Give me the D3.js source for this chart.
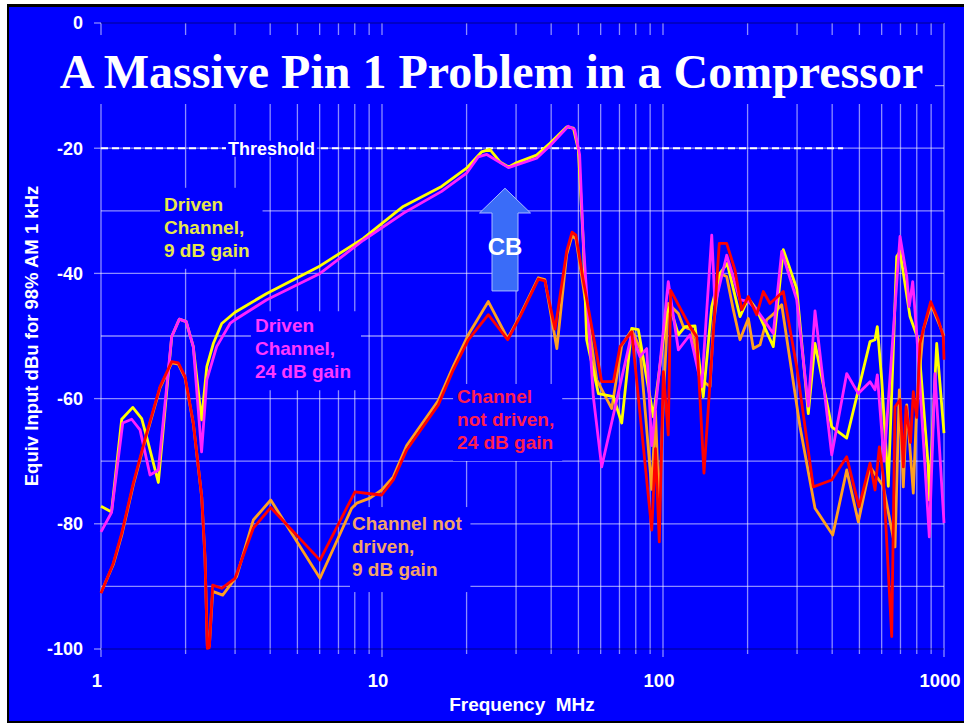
<!DOCTYPE html>
<html>
<head>
<meta charset="utf-8">
<script src="https://cdn.jsdelivr.net/npm/d3@7"></script>
<style>
  html, body { margin: 0; padding: 0; background: #ffffff; }
  svg { display: block; }
</style>
</head>
<body>
<svg id="chart" width="964" height="723"></svg>
<script>
// ---- data: frequency in MHz, level in dBu ----
const freqTicks = [1, 10, 100, 1000];
const dbTicks = [0, -20, -40, -60, -80, -100];
const dbGrid = [-10, -20, -30, -40, -50, -60, -70, -80, -90];
const threshold = -20;

// Driven channel, 9 dB gain
const drivenGain9 = [
  [1.00, -77.2], [1.09, -78.1], [1.185, -63.3], [1.297, -61.4], [1.396, -63.2], [1.473, -67.1],
  [1.60, -73.4], [1.785, -50.1], [1.90, -47.3], [2.01, -47.7], [2.13, -51.7], [2.28, -63.4],
  [2.38, -54.9], [2.51, -51.2], [2.69, -48.0], [3.0, -46.2], [3.89, -43.2], [6.02, -38.8],
  [8.58, -34.4], [11.9, -29.3], [16.3, -26.1], [20.0, -23.2], [22.6, -20.6], [24.2, -20.2],
  [26.3, -22.2], [28.2, -23.0], [30.2, -22.3], [35.5, -21.1], [39.6, -19.2], [45.4, -16.6],
  [48.0, -16.8], [50.0, -20.3], [52.0, -34.7], [53.5, -50.6], [58.9, -59.2], [66.6, -59.7],
  [71.3, -63.9], [77.4, -48.8], [81.7, -49.0], [92.4, -62.9], [103.1, -46.4], [105.9, -45.3],
  [113.4, -49.8], [119.8, -48.5], [130.0, -48.4], [139.1, -59.7], [149.1, -45.3], [159.5, -40.0],
  [169.3, -38.4], [187.9, -46.9], [201.2, -44.0], [215.5, -45.8], [246.9, -51.7], [268.0, -36.2],
  [299.1, -42.4], [328.9, -62.4], [347.5, -51.2], [398.5, -64.5], [450.6, -66.3], [545.5, -50.9],
  [568.2, -50.6], [579.0, -48.5], [600.3, -57.0], [633.6, -74.0], [678.8, -37.3], [697.4, -36.5],
  [756.9, -46.9], [810.1, -50.6], [879.3, -70.9], [886.6, -76.2], [941.9, -51.2], [1000, -65.5]
];

// Driven channel, 24 dB gain
const drivenGain24 = [
  [1.00, -81.3], [1.09, -78.2], [1.195, -63.9], [1.286, -63.3], [1.377, -65.0], [1.494, -72.2],
  [1.60, -71.4], [1.785, -50.1], [1.90, -47.3], [2.01, -47.7], [2.13, -51.7], [2.28, -68.5],
  [2.38, -57.0], [2.58, -51.7], [2.88, -48.0], [3.0, -47.4], [3.89, -44.2], [6.02, -40.0],
  [8.58, -34.7], [11.9, -30.4], [16.3, -26.9], [20.0, -24.0], [22.0, -21.4], [23.6, -21.0],
  [28.2, -23.1], [35.5, -21.6], [39.6, -19.6], [46.0, -16.5], [48.5, -17.0], [50.5, -21.0],
  [52.0, -34.7], [56.5, -59.7], [60.5, -70.9], [77.4, -49.6], [82.8, -53.3], [87.5, -52.0],
  [91.2, -67.5], [104.4, -41.3], [113.4, -52.2], [124.8, -49.8], [137.3, -58.1], [149.1, -33.9],
  [153.1, -45.0], [168.5, -37.1], [187.9, -44.2], [201.2, -44.5], [215.5, -45.8], [246.9, -49.6],
  [264.5, -36.5], [299.1, -44.2], [328.9, -61.2], [347.5, -46.0], [398.5, -69.0], [450.6, -56.0],
  [495.5, -59.2], [545.5, -57.3], [568.2, -58.6], [579.0, -56.2], [612.0, -70.0], [697.4, -34.1],
  [736.9, -40.5], [752.0, -45.3], [773.8, -41.3], [799.5, -49.6], [886.6, -82.1], [928.9, -56.0],
  [1000, -79.9]
];

// Channel not driven, 24 dB gain
const undrivenGain24 = [
  [1.00, -91.1], [1.106, -86.3], [1.185, -81.5], [1.303, -73.5], [1.454, -65.5], [1.622, -58.1],
  [1.785, -54.1], [1.884, -54.3], [1.991, -56.5], [2.131, -63.9], [2.283, -75.7], [2.345, -85.3],
  [2.39, -99.9], [2.43, -99.8], [2.497, -89.8], [2.688, -90.3], [2.998, -88.7], [3.483, -80.7],
  [4.018, -77.4], [6.016, -85.8], [8.01, -74.9], [9.06, -75.2], [9.97, -75.4], [10.97, -73.0],
  [12.24, -68.2], [15.86, -61.0], [17.94, -55.4], [20.28, -50.6], [23.9, -46.6], [28.0, -50.6],
  [31.0, -46.9], [36.0, -40.9], [38.0, -41.2], [41.3, -48.9], [45.4, -36.5], [47.45, -33.4],
  [49.0, -33.9], [52.0, -41.0], [60.5, -57.3], [66.6, -57.3], [70.3, -51.7], [77.4, -49.3],
  [91.2, -81.0], [94.0, -68.0], [97.0, -82.9], [100.3, -55.7], [104.4, -65.8], [106.5, -42.7],
  [124.8, -48.5], [131.8, -50.1], [139.9, -71.9], [158.6, -35.2], [168.5, -35.2], [180.4, -39.5],
  [190.6, -45.8], [201.2, -43.7], [215.5, -46.6], [227.5, -42.9], [240.3, -44.8], [268.0, -42.9],
  [299.1, -54.9], [342.7, -74.1], [398.5, -73.0], [450.6, -69.3], [498.3, -77.3], [545.5, -70.3],
  [568.2, -74.6], [588.6, -67.7], [608.2, -72.5], [651.5, -98.0], [669.4, -61.3], [697.4, -60.2],
  [716.6, -70.9], [732.6, -61.3], [760.0, -67.0], [777.6, -58.9], [800.0, -63.0], [821.4, -51.2],
  [848.9, -48.5], [896.8, -44.5], [954.2, -47.4], [994.0, -50.1], [1000, -53.8]
];

// Channel not driven, 9 dB gain
const undrivenGain9 = [
  [1.00, -91.0], [1.106, -86.5], [1.185, -81.8], [1.303, -73.8], [1.454, -65.8], [1.622, -58.3],
  [1.785, -54.3], [1.884, -54.5], [1.991, -56.7], [2.131, -64.0], [2.283, -75.8], [2.345, -85.5],
  [2.39, -99.5], [2.43, -99.5], [2.497, -90.8], [2.711, -91.4], [3.04, -88.4], [3.483, -79.4],
  [4.018, -76.2], [6.016, -88.7], [7.80, -77.5], [8.13, -76.7], [9.06, -75.9], [9.97, -74.6],
  [10.97, -72.5], [12.24, -67.5], [15.86, -60.3], [17.94, -54.8], [20.28, -49.8], [23.9, -44.5],
  [28.0, -50.4], [31.0, -46.7], [36.0, -40.7], [38.0, -41.0], [41.9, -52.0], [45.4, -37.0],
  [47.45, -34.0], [49.0, -34.5], [52.0, -42.0], [58.1, -57.0], [65.7, -61.6], [71.3, -51.5],
  [77.4, -49.0], [82.8, -52.0], [91.2, -74.5], [94.0, -62.0], [97.0, -78.0], [100.3, -60.0],
  [104.4, -44.8], [113.4, -46.4], [118.1, -48.5], [126.5, -49.0], [137.3, -57.0], [147.0, -58.1],
  [151.0, -48.5], [159.5, -40.0], [168.5, -40.5], [177.9, -45.8], [187.9, -50.6], [201.2, -47.2],
  [209.6, -52.0], [221.4, -51.4], [233.9, -47.4], [246.9, -46.5], [264.5, -45.0], [307.3, -64.5],
  [347.5, -77.5], [401.8, -81.8], [450.6, -71.4], [495.5, -79.7], [545.5, -70.9], [608.0, -74.0],
  [669.4, -83.7], [693.4, -58.6], [716.6, -74.1], [737.0, -61.0], [777.6, -75.1], [800.0, -61.0],
  [844.0, -49.0], [900.0, -45.0], [1000, -50.0]
];

const series = [
  { name: "undriven9",  data: undrivenGain9,  color: "#ffa020" },
  { name: "driven9",    data: drivenGain9,    color: "#ffff00" },
  { name: "driven24",   data: drivenGain24,   color: "#ff22ff" },
  { name: "undriven24", data: undrivenGain24, color: "#ff0000" }
];

// ---- layout ----
const svg = d3.select("#chart");
const x = d3.scaleLog().domain([1, 1000]).range([101, 944]);
const y = d3.scaleLinear().domain([-100, 0]).range([649, 23]);

// slide frame
svg.append("rect").attr("x", 7).attr("y", 4).attr("width", 964).attr("height", 719).attr("fill", "#000");
svg.append("rect").attr("x", 9).attr("y", 7).attr("width", 960).attr("height", 714).attr("fill", "#0000ff");

const grid = svg.append("g").attr("stroke", "rgba(255,255,255,0.55)").attr("stroke-width", 1.3);

// vertical grid (1..9 per decade)
const vFreqs = [];
[1, 10, 100].forEach(d => { for (let k = 1; k <= 9; k++) vFreqs.push(d * k); });
vFreqs.push(1000);
grid.selectAll("line.v").data(vFreqs).join("line")
  .attr("class", "v")
  .attr("x1", d => x(d)).attr("x2", d => x(d))
  .attr("y1", y(0))
  .attr("y2", d => freqTicks.includes(d) ? y(-100) + 8 : y(-100) + 5);

// horizontal grid
grid.selectAll("line.h").data(dbGrid).join("line")
  .attr("class", "h")
  .attr("x1", x(1)).attr("x2", x(1000))
  .attr("y1", d => y(d)).attr("y2", d => y(d));

// top / bottom frame lines and y ticks
svg.append("g").attr("stroke", "rgba(0,0,90,0.45)").attr("stroke-width", 1.3)
  .selectAll("line").data([0, -100]).join("line")
  .attr("x1", x(1)).attr("x2", x(1000)).attr("y1", d => y(d)).attr("y2", d => y(d));
svg.append("g").attr("stroke", "rgba(255,255,255,0.55)").attr("stroke-width", 1.3)
  .selectAll("line").data(dbTicks).join("line")
  .attr("x1", x(1) - 7).attr("x2", x(1)).attr("y1", d => y(d)).attr("y2", d => y(d));

// blue panel behind the title
svg.append("rect").attr("x", 95).attr("y", 35).attr("width", 840).attr("height", 69).attr("fill", "#0000ff");

// tick labels
const tickFont = "'Liberation Sans', Arial, sans-serif";
svg.append("g").selectAll("text").data(dbTicks).join("text")
  .attr("x", 83).attr("y", d => y(d)).attr("dy", "0.36em")
  .attr("text-anchor", "end").attr("fill", "#fff")
  .attr("font-family", tickFont).attr("font-weight", "bold").attr("font-size", 18)
  .text(d => d);
svg.append("g").selectAll("text").data(freqTicks).join("text")
  .attr("x", d => x(d) - 4).attr("y", 687)
  .attr("text-anchor", "middle").attr("fill", "#fff")
  .attr("font-family", tickFont).attr("font-weight", "bold").attr("font-size", 18.5)
  .text(d => d);

// axis titles
svg.append("text")
  .attr("x", 522).attr("y", 711).attr("text-anchor", "middle").attr("fill", "#fff")
  .attr("font-family", tickFont).attr("font-weight", "bold").attr("font-size", 19)
  .attr("xml:space", "preserve")
  .text("Frequency  MHz");
svg.append("text")
  .attr("transform", "translate(37.5,336) rotate(-90)")
  .attr("text-anchor", "middle").attr("fill", "#fff")
  .attr("font-family", tickFont).attr("font-weight", "bold").attr("font-size", 18.5)
  .text("Equiv Input dBu for 98% AM 1 kHz");

// threshold line and label
svg.append("line")
  .attr("x1", x(1)).attr("x2", x(437)).attr("y1", y(threshold)).attr("y2", y(threshold))
  .attr("stroke", "#fff").attr("stroke-width", 2).attr("stroke-dasharray", "7,4");
const thr = svg.append("g");
const thrText = thr.append("text")
  .attr("x", x(2.83)).attr("y", y(threshold)).attr("dy", "0.36em")
  .attr("fill", "#fff").attr("font-family", tickFont).attr("font-weight", "bold").attr("font-size", 18)
  .text("Threshold");
const tb = thrText.node().getBBox();
thr.insert("rect", "text").attr("x", tb.x - 2).attr("y", tb.y + 2).attr("width", tb.width + 4)
  .attr("height", tb.height - 4).attr("fill", "#0000ff");

// series labels, each on a blue panel
const labels = [
  { lines: ["Driven", "Channel,", "9 dB gain"], f: 1.676, db: -30.0, color: "#e8e84a", pad: [4, 13, 20, 8] },
  { lines: ["Driven", "Channel,", "24 dB gain"], f: 3.53, db: -49.4, color: "#ff38ff", pad: [4, 10, 18, 8] },
  { lines: ["Channel", "not driven,", "24 dB gain"], f: 18.5, db: -60.7, color: "#ff1e50", pad: [4, 8, 16, 8] },
  { lines: ["Channel not", "driven,", "9 dB gain"], f: 7.82, db: -81.0, color: "#f4a468", pad: [2, 8, 20, 12] }
];
labels.forEach(L => {
  const g = svg.append("g");
  const t = g.append("text")
    .attr("fill", L.color).attr("font-family", tickFont).attr("font-weight", "bold").attr("font-size", 19);
  L.lines.forEach((s, i) => {
    t.append("tspan").attr("x", x(L.f)).attr("y", y(L.db) + i * 23).text(s);
  });
  const b = t.node().getBBox();
  g.insert("rect", "text")
    .attr("x", b.x - L.pad[0]).attr("y", b.y - L.pad[2] + 14)
    .attr("width", b.width + L.pad[0] + L.pad[1])
    .attr("height", b.height + L.pad[2] + L.pad[3] - 14)
    .attr("fill", "#0000ff");
});

// measurement curves
const line = d3.line().x(d => x(d[0])).y(d => y(d[1]));
svg.append("g").selectAll("path").data(series).join("path")
  .attr("d", d => line(d.data))
  .attr("fill", "none")
  .attr("stroke", d => d.color)
  .attr("stroke-width", 2.8)
  .attr("stroke-linejoin", "round");

// CB arrow
const arrowF = 27.4, tipDb = -26.4, headDb = -30.35, baseDb = -42.8;
const ax = x(arrowF), headHalf = 25.5, shaftHalf = 13;
const arrowPts = [
  [ax, y(tipDb)], [ax + headHalf, y(headDb)], [ax + shaftHalf, y(headDb)], [ax + shaftHalf, y(baseDb)],
  [ax - shaftHalf, y(baseDb)], [ax - shaftHalf, y(headDb)], [ax - headHalf, y(headDb)]
];
svg.append("polygon")
  .attr("points", arrowPts.map(p => p.join(",")).join(" "))
  .attr("fill", "#3a6cf8").attr("stroke", "#a8bcff").attr("stroke-width", 1);
svg.append("text")
  .attr("x", ax).attr("y", y(-37.1)).attr("text-anchor", "middle").attr("fill", "#fff")
  .attr("font-family", tickFont).attr("font-weight", "bold").attr("font-size", 24)
  .text("CB");

// title
svg.append("text")
  .attr("x", 491.5).attr("y", 88).attr("text-anchor", "middle").attr("fill", "#fff")
  .attr("font-family", "'Liberation Serif', 'Times New Roman', serif").attr("font-weight", "bold")
  .attr("font-size", 48)
  .text("A Massive Pin 1 Problem in a Compressor");
</script>
</body>
</html>
